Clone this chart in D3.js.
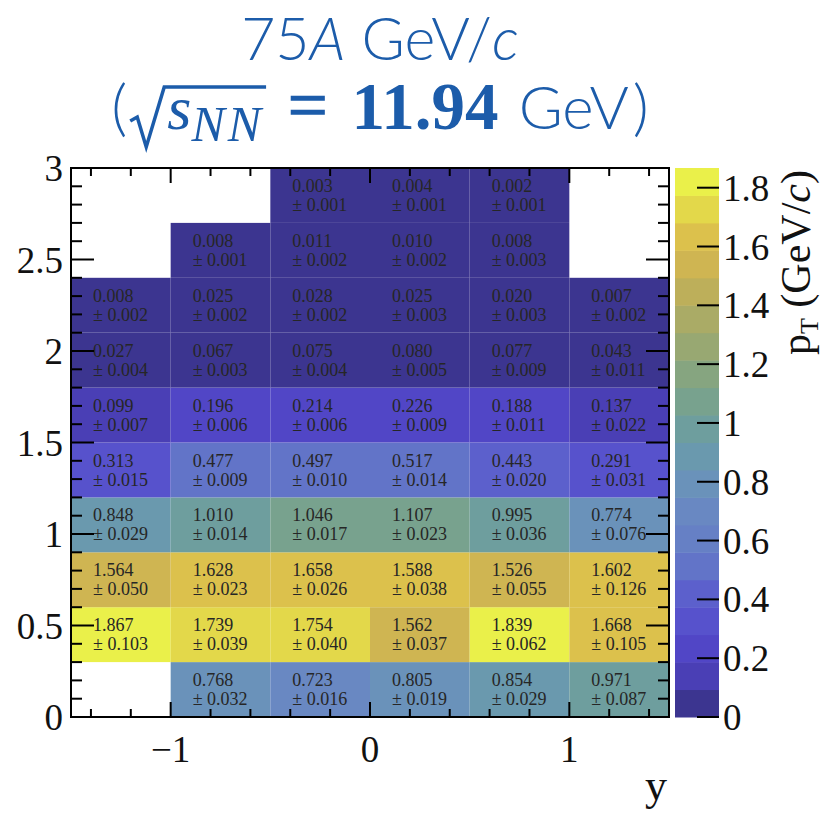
<!DOCTYPE html>
<html>
<head>
    <script src="https://d3js.org/d3.v7.min.js"></script>
    <style>
        body { margin: 0; background: #fff; }
        text { font-family: "Liberation Serif", "Times New Roman", serif; white-space: pre; }
    </style>
</head>
<body>
    <div id="chart"></div>
    <script>
        // bin edges
        var rapidityEdges = [-1.5, -1, -0.5, 0, 0.5, 1, 1.5];
        var ptEdges = [0, 0.3, 0.6, 0.9, 1.2, 1.5, 1.8, 2.1, 2.4, 2.7, 3.0];

        // mean pT per cell, rows from low pT to high pT, null = empty bin
        var meanPt = [
            [null, 0.768, 0.723, 0.805, 0.854, 0.971],
            [1.867, 1.739, 1.754, 1.562, 1.839, 1.668],
            [1.564, 1.628, 1.658, 1.588, 1.526, 1.602],
            [0.848, 1.010, 1.046, 1.107, 0.995, 0.774],
            [0.313, 0.477, 0.497, 0.517, 0.443, 0.291],
            [0.099, 0.196, 0.214, 0.226, 0.188, 0.137],
            [0.027, 0.067, 0.075, 0.080, 0.077, 0.043],
            [0.008, 0.025, 0.028, 0.025, 0.020, 0.007],
            [null, 0.008, 0.011, 0.010, 0.008, null],
            [null, null, 0.003, 0.004, 0.002, null]
        ];
        var meanPtErr = [
            [null, 0.032, 0.016, 0.019, 0.029, 0.087],
            [0.103, 0.039, 0.040, 0.037, 0.062, 0.105],
            [0.050, 0.023, 0.026, 0.038, 0.055, 0.126],
            [0.029, 0.014, 0.017, 0.023, 0.036, 0.076],
            [0.015, 0.009, 0.010, 0.014, 0.020, 0.031],
            [0.007, 0.006, 0.006, 0.009, 0.011, 0.022],
            [0.004, 0.003, 0.004, 0.005, 0.009, 0.011],
            [0.002, 0.002, 0.002, 0.003, 0.003, 0.002],
            [null, 0.001, 0.002, 0.002, 0.003, null],
            [null, null, 0.001, 0.001, 0.001, null]
        ];

        var xTicks = [-1, 0, 1];
        var yTicks = [0, 0.5, 1, 1.5, 2, 2.5, 3];
        var zTicks = [0, 0.2, 0.4, 0.6, 0.8, 1, 1.2, 1.4, 1.6, 1.8];
        var zMax = 1.867;
        var nLevels = 20;
        var paletteStops = ["#3c3590", "#4a3fb5", "#5146c6", "#5752cc", "#5c60cc",
            "#6274c8", "#6680c5", "#6988c2", "#6a92ba", "#6a99ae", "#6e9e9e",
            "#78a28e", "#86a580", "#98a872", "#aaab66", "#bdaf5a", "#cfb552",
            "#dcc14c", "#e3d84a", "#eaf04a"];

        var W = 828, H = 817;
        var blue = "#1c5caa";

        var svg = d3.select("#chart").append("svg")
            .attr("width", W)
            .attr("height", H);

        var x = d3.scaleLinear().domain([-1.5, 1.5]).range([71, 669]);
        var y = d3.scaleLinear().domain([0, 3]).range([717, 168]);
        var z = d3.scaleLinear().domain([0, zMax]).range([717, 168]);
        var color = d3.scaleQuantize().domain([0, zMax]).range(paletteStops);

        // cells
        var cells = [];
        meanPt.forEach(function (row, i) {
            row.forEach(function (v, j) {
                if (v === null) return;
                cells.push({ i: i, j: j, v: v, e: meanPtErr[i][j] });
            });
        });

        var cell = svg.append("g").selectAll("g")
            .data(cells)
            .enter().append("g");

        cell.append("rect")
            .attr("x", function (d) { return x(rapidityEdges[d.j]); })
            .attr("y", function (d) { return y(ptEdges[d.i + 1]); })
            .attr("width", function (d) { return x(rapidityEdges[d.j + 1]) - x(rapidityEdges[d.j]); })
            .attr("height", function (d) { return y(ptEdges[d.i]) - y(ptEdges[d.i + 1]); })
            .attr("fill", function (d) { return color(Math.min(d.v, zMax - 1e-6)); });

        var fmt = d3.format(".3f");
        var cellText = cell.append("text")
            .attr("font-size", 18)
            .attr("fill", "#262626");
        cellText.append("tspan")
            .attr("x", function (d) { return x(rapidityEdges[d.j]) + 22; })
            .attr("y", function (d) { return y(ptEdges[d.i + 1]) + 24; })
            .text(function (d) { return fmt(d.v); });
        cellText.append("tspan")
            .attr("x", function (d) { return x(rapidityEdges[d.j]) + 22; })
            .attr("y", function (d) { return y(ptEdges[d.i + 1]) + 43; })
            .text(function (d) { return "\u00b1 " + fmt(d.e); });

        // frame ticks
        var frame = svg.append("g").attr("stroke", "#000");
        var yMinor = d3.range(0, 31).map(function (k) { return k / 10; });
        var xMinor = d3.range(-7, 8).map(function (k) { return k / 5; });

        yMinor.forEach(function (v) {
            var major = Math.abs(v * 2 - Math.round(v * 2)) < 1e-6;
            var len = major ? 23 : 11;
            frame.append("line").attr("x1", x(-1.5)).attr("x2", x(-1.5) + len)
                .attr("y1", y(v)).attr("y2", y(v)).attr("stroke-width", 2);
            frame.append("line").attr("x1", x(1.5)).attr("x2", x(1.5) - len)
                .attr("y1", y(v)).attr("y2", y(v)).attr("stroke-width", 2);
        });
        xMinor.forEach(function (v) {
            var major = Math.abs(v - Math.round(v)) < 1e-6;
            var len = major ? 15 : 8;
            frame.append("line").attr("x1", x(v)).attr("x2", x(v))
                .attr("y1", y(0)).attr("y2", y(0) - len).attr("stroke-width", 2);
            frame.append("line").attr("x1", x(v)).attr("x2", x(v))
                .attr("y1", y(3)).attr("y2", y(3) + len).attr("stroke-width", 2);
        });
        frame.append("rect")
            .attr("x", x(-1.5)).attr("y", y(3))
            .attr("width", x(1.5) - x(-1.5)).attr("height", y(0) - y(3))
            .attr("fill", "none").attr("stroke-width", 2);

        // axis labels
        svg.append("g").selectAll("text")
            .data(yTicks).enter().append("text")
            .attr("x", 63)
            .attr("y", function (d) { return y(d) + 13; })
            .attr("text-anchor", "end")
            .attr("font-size", 37)
            .attr("fill", "#111")
            .text(function (d) { return d3.format("")(d); });

        svg.append("g").selectAll("text")
            .data(xTicks).enter().append("text")
            .attr("x", function (d) { return x(d); })
            .attr("y", 762)
            .attr("text-anchor", "middle")
            .attr("font-size", 37)
            .attr("fill", "#111")
            .text(function (d) { return d < 0 ? "\u2212" + Math.abs(d) : d; });

        svg.append("text")
            .attr("x", 656).attr("y", 800)
            .attr("text-anchor", "middle")
            .attr("font-size", 44)
            .attr("fill", "#111")
            .text("y");

        // colour bar
        var levels = d3.range(nLevels).map(function (k) { return k * zMax / nLevels; });
        svg.append("g").selectAll("rect")
            .data(levels).enter().append("rect")
            .attr("x", 675)
            .attr("width", 44)
            .attr("y", function (d) { return z(d + zMax / nLevels); })
            .attr("height", function (d) { return z(d) - z(d + zMax / nLevels) + 0.5; })
            .attr("fill", function (d) { return color(d + zMax / nLevels / 2); });

        var zAxis = svg.append("g");
        zAxis.selectAll("line")
            .data(zTicks).enter().append("line")
            .attr("x1", 697).attr("x2", 719)
            .attr("y1", function (d) { return z(d); })
            .attr("y2", function (d) { return z(d); })
            .attr("stroke", "#000").attr("stroke-width", 2);
        zAxis.selectAll("text")
            .data(zTicks).enter().append("text")
            .attr("x", 723)
            .attr("y", function (d) { return z(d) + 13; })
            .attr("font-size", 37)
            .attr("fill", "#111")
            .text(function (d) { return d3.format("")(d); });

        var zTitle = svg.append("text")
            .attr("transform", "translate(810,170) rotate(-90)")
            .attr("text-anchor", "end")
            .attr("font-size", 42)
            .attr("fill", "#111");
        zTitle.append("tspan").text("p");
        zTitle.append("tspan").attr("font-size", 26).attr("dy", 8).text("T");
        zTitle.append("tspan").attr("dy", -8).text(" (GeV/");
        zTitle.append("tspan").attr("font-style", "italic").text("c");
        zTitle.append("tspan").text(")");

        // title
        var t1 = svg.append("text")
            .attr("x", 380).attr("y", 60)
            .attr("text-anchor", "middle")
            .attr("fill", blue)
            .style("font-family", "Lato, 'Open Sans', sans-serif")
            .attr("font-weight", 300)
            .attr("font-size", 59);
        t1.append("tspan").text("75");
        t1.append("tspan").attr("font-style", "italic").text("A");
        t1.append("tspan").text(" GeV/");
        t1.append("tspan").attr("font-style", "italic").text("c");

        var base = 129;
        var t2 = svg.append("g").attr("fill", blue);
        var pieces = [
            { t: "(", fam: "Lato", size: 62, w: 300 },
            { gap: 2 },
            { rad: true, gap: 38 },
            { t: "s", fam: "Liberation Serif", size: 62, italic: true },
            { t: "NN", fam: "Liberation Serif", size: 50, italic: true, dy: 12, ls: 3, over: true },
            { gap: 24 },
            { t: "=", fam: "Liberation Serif", size: 70 },
            { gap: 24 },
            { t: "11.94", fam: "Liberation Serif", size: 67, bold: true },
            { gap: 20 },
            { t: "GeV", fam: "Lato", size: 60, w: 300 },
            { gap: 4 },
            { t: ")", fam: "Lato", size: 62, w: 300 }
        ];
        var cx = 0, radX = 0, overEnd = 0;
        pieces.forEach(function (p) {
            if (p.rad) radX = cx;
            if (p.gap) { cx += p.gap; return; }
            var el = t2.append("text")
                .attr("x", cx).attr("y", base + (p.dy || 0))
                .style("font-family", p.fam)
                .attr("font-size", p.size)
                .attr("letter-spacing", p.ls || null)
                .attr("font-style", p.italic ? "italic" : null)
                .attr("font-weight", p.bold ? "bold" : (p.w || null))
                .attr("stroke", p.t === "=" ? blue : null)
                .attr("stroke-width", p.t === "=" ? 1.5 : null)
                .text(p.t);
            cx += el.node().getComputedTextLength();
            if (p.over) overEnd = cx + 2;
        });
        var shift = 380 - cx / 2;
        t2.attr("transform", "translate(" + shift + ",0)");
        t2.append("path")
            .attr("d", "M" + (radX + 1) + "," + (base - 8) +
                "L" + (radX + 8) + "," + (base - 12) +
                "L" + (radX + 17) + "," + (base + 18) +
                "L" + (radX + 35) + "," + (base - 42) +
                "L" + overEnd + "," + (base - 42))
            .attr("fill", "none")
            .attr("stroke", blue)
            .attr("stroke-width", 3.5);
    </script>
</body>
</html>
